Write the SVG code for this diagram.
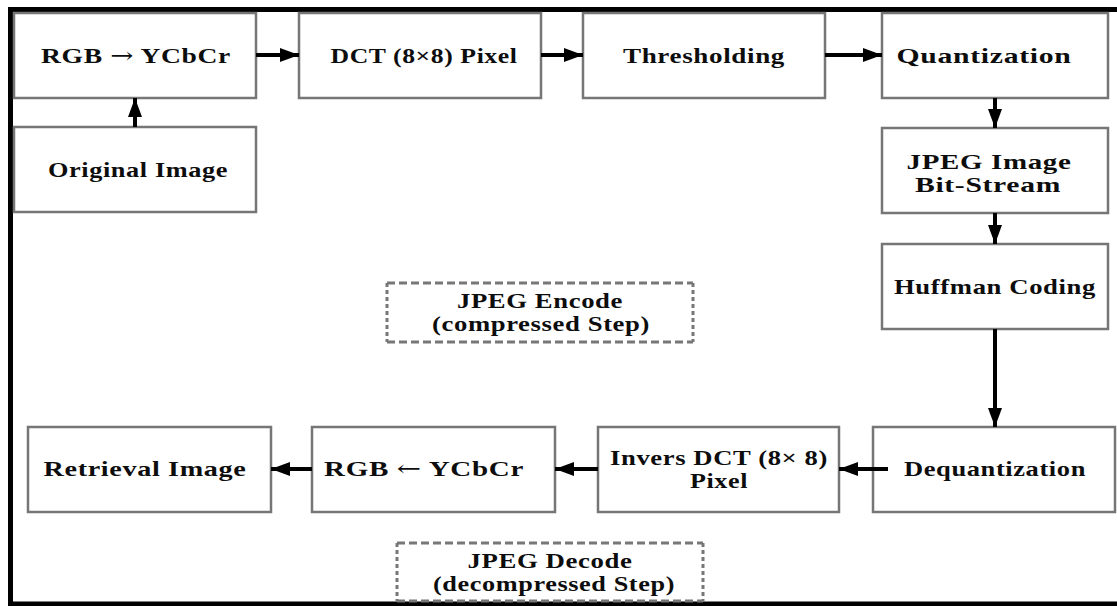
<svg xmlns="http://www.w3.org/2000/svg" width="1117" height="606" viewBox="0 0 1117 606">
  <style>
    .box { fill: #ffffff; stroke: #767676; stroke-width: 2.5; }
    .lbl { font-family: "Liberation Serif", "Times New Roman", serif; font-weight: bold; font-size: 22px; letter-spacing: 0.5px; fill: #0d0d0d; text-anchor: middle; }
    .arw { font-family: "DejaVu Serif", "Liberation Serif", serif; font-weight: normal; }
    .wire { fill: none; stroke: #000000; stroke-width: 4; marker-end: url(#head); }
    .dashH { fill: none; stroke: #777777; stroke-width: 3; stroke-dasharray: 8 4; }
    .dashV { fill: none; stroke: #777777; stroke-width: 3; stroke-dasharray: 4 3; }
    .frame { fill: none; stroke: #000000; stroke-width: 5; }
  </style>
  <defs>
    <marker id="head" markerUnits="userSpaceOnUse" markerWidth="19" markerHeight="14" refX="19" refY="7" orient="auto">
      <path d="M0,0 L19,7 L0,14 Z" fill="#000000"/>
    </marker>
  </defs>

  <rect width="1117" height="606" fill="#ffffff"/>
  <path class="frame" d="M1117,9.5 H10.5 V604 H1117"/>

  <!-- encoder chain -->
  <g id="rgb-to-ycbcr">
    <rect class="box" x="14" y="13" width="242" height="85"/>
    <text class="lbl" x="136" y="63" textLength="190" lengthAdjust="spacingAndGlyphs">RGB <tspan class="arw">→</tspan> YCbCr</text>
  </g>
  <g id="dct">
    <rect class="box" x="299" y="13" width="242" height="85"/>
    <text class="lbl" x="424" y="63" textLength="187" lengthAdjust="spacingAndGlyphs">DCT (8×8) Pixel</text>
  </g>
  <g id="thresholding">
    <rect class="box" x="583" y="13" width="242" height="85"/>
    <text class="lbl" x="704" y="63" textLength="162" lengthAdjust="spacingAndGlyphs">Thresholding</text>
  </g>
  <g id="quantization">
    <rect class="box" x="882" y="13" width="226" height="85"/>
    <text class="lbl" x="984" y="63" textLength="175" lengthAdjust="spacingAndGlyphs">Quantization</text>
  </g>
  <g id="original-image">
    <rect class="box" x="14" y="127" width="242" height="85"/>
    <text class="lbl" x="138" y="177" textLength="180" lengthAdjust="spacingAndGlyphs">Original Image</text>
  </g>
  <g id="bit-stream">
    <rect class="box" x="882" y="128" width="226" height="85"/>
    <text class="lbl" x="989" y="169" textLength="165" lengthAdjust="spacingAndGlyphs">JPEG Image</text>
    <text class="lbl" x="988" y="192" textLength="146" lengthAdjust="spacingAndGlyphs">Bit-Stream</text>
  </g>
  <g id="huffman">
    <rect class="box" x="882" y="244" width="226" height="85"/>
    <text class="lbl" x="995" y="294" textLength="202" lengthAdjust="spacingAndGlyphs">Huffman Coding</text>
  </g>

  <!-- decoder chain -->
  <g id="dequantization">
    <rect class="box" x="873" y="427" width="242" height="85"/>
    <text class="lbl" x="995" y="476" textLength="182" lengthAdjust="spacingAndGlyphs">Dequantization</text>
  </g>
  <g id="inverse-dct">
    <rect class="box" x="598" y="427" width="241" height="85"/>
    <text class="lbl" x="719" y="465" textLength="218" lengthAdjust="spacingAndGlyphs">Invers DCT (8× 8)</text>
    <text class="lbl" x="719" y="488" textLength="58" lengthAdjust="spacingAndGlyphs">Pixel</text>
  </g>
  <g id="ycbcr-to-rgb">
    <rect class="box" x="312" y="427" width="243" height="85"/>
    <text class="lbl" x="424" y="476" textLength="200" lengthAdjust="spacingAndGlyphs">RGB <tspan class="arw">←</tspan> YCbCr</text>
  </g>
  <g id="retrieval-image">
    <rect class="box" x="28" y="427" width="243" height="85"/>
    <text class="lbl" x="145" y="476" textLength="203" lengthAdjust="spacingAndGlyphs">Retrieval Image</text>
  </g>

  <!-- stage captions -->
  <g id="encode-caption">
    <path class="dashH" d="M387,283 H693 M387,342 H693"/>
    <path class="dashV" d="M387,283 V342 M693,283 V342"/>
    <text class="lbl" x="540" y="308" textLength="166" lengthAdjust="spacingAndGlyphs">JPEG Encode</text>
    <text class="lbl" x="541" y="331" textLength="218" lengthAdjust="spacingAndGlyphs">(compressed Step)</text>
  </g>
  <g id="decode-caption">
    <path class="dashH" d="M397,543 H703 M397,601 H703"/>
    <path class="dashV" d="M397,543 V601 M703,543 V601"/>
    <text class="lbl" x="550" y="568" textLength="165" lengthAdjust="spacingAndGlyphs">JPEG Decode</text>
    <text class="lbl" x="554" y="591" textLength="242" lengthAdjust="spacingAndGlyphs">(decompressed Step)</text>
  </g>

  <g id="connectors">
    <line class="wire" x1="256" y1="55" x2="299" y2="55"/>
    <line class="wire" x1="541" y1="55" x2="583" y2="55"/>
    <line class="wire" x1="825" y1="55" x2="882" y2="55"/>
    <line class="wire" x1="135" y1="127" x2="135" y2="98"/>
    <line class="wire" x1="995" y1="98" x2="995" y2="128"/>
    <line class="wire" x1="995" y1="213" x2="995" y2="244"/>
    <line class="wire" x1="995" y1="329" x2="995" y2="427"/>
    <line class="wire" x1="888" y1="469" x2="839" y2="469"/>
    <line class="wire" x1="598" y1="469" x2="555" y2="469"/>
    <line class="wire" x1="312" y1="469" x2="271" y2="469"/>
  </g>
</svg>
